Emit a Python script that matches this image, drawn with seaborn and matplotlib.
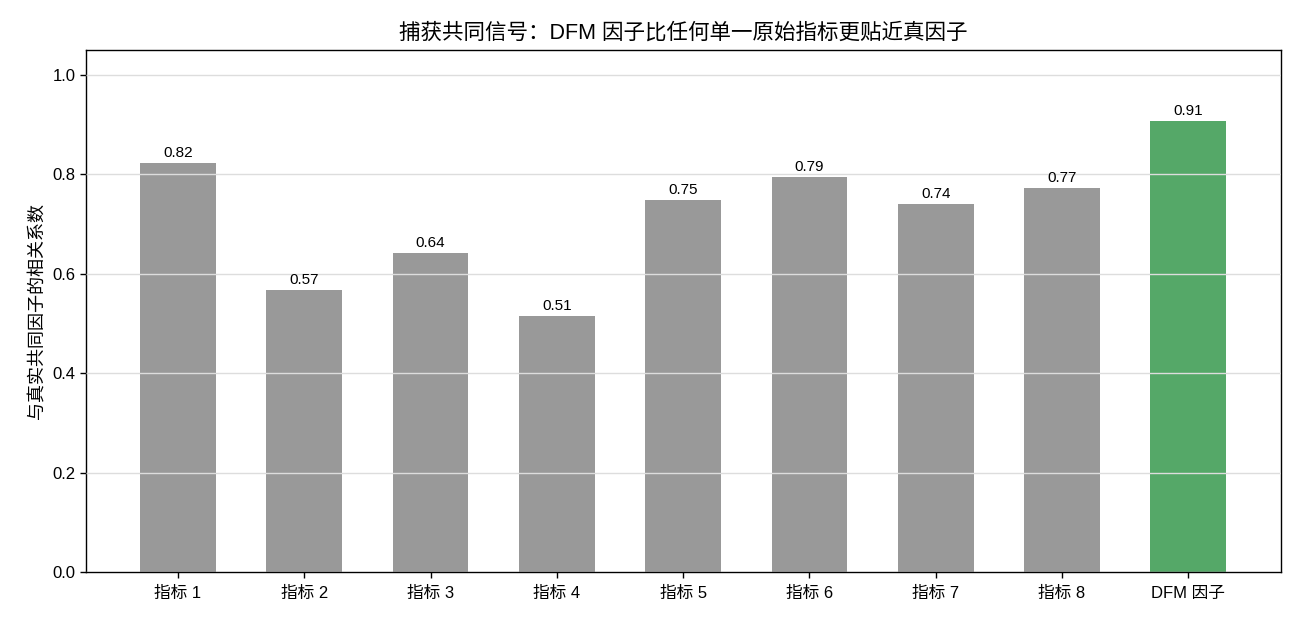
import matplotlib
matplotlib.use("Agg")
import matplotlib.pyplot as plt
import seaborn as sns
import pandas as pd

categories = ["指标 1", "指标 2", "指标 3", "指标 4", "指标 5", "指标 6", "指标 7", "指标 8", "DFM 因子"]
correlations = [0.822, 0.568, 0.641, 0.514, 0.748, 0.794, 0.740, 0.772, 0.908]
bar_colors = ["#999999"] * 8 + ["#55A868"]

sns.set_theme(style="white")
plt.rcParams["font.family"] = ["Liberation Sans", "Noto Sans CJK SC", "DejaVu Sans"]
plt.rcParams["axes.unicode_minus"] = False

df = pd.DataFrame({"cat": categories, "r": correlations})

fig = plt.figure(figsize=(13, 6.24), dpi=100)
ax = fig.add_axes([0.066, 0.0833, 0.919, 0.8367])
sns.barplot(data=df, x="cat", y="r", hue="cat", palette=bar_colors, legend=False,
            width=0.6, ax=ax, saturation=1, edgecolor="none", linewidth=0)

ax.set_axisbelow(False)
ax.yaxis.grid(True, color="#dddddd", linewidth=1)
ax.set_xlim(-0.73, 8.73)
ax.set_ylim(0, 1.05)
ax.set_yticks([0, 0.2, 0.4, 0.6, 0.8, 1.0])
ax.set_yticklabels(["0.0", "0.2", "0.4", "0.6", "0.8", "1.0"])

for s in ax.spines.values():
    s.set_visible(True)
    s.set_color("black")
    s.set_linewidth(1)

ax.tick_params(axis="both", which="both", direction="out", length=4, width=1,
               color="black", labelsize=12, bottom=True, left=True, labelcolor="black")
ax.tick_params(axis="x", pad=6)

for i, v in enumerate(correlations):
    ax.text(i, v + 0.006, f"{v:.2f}", ha="center", va="bottom", fontsize=11, color="black")

ax.set_xlabel("")
ax.set_ylabel("与真实共同因子的相关系数", fontsize=13, color="black")
ax.set_title("捕获共同信号：DFM 因子比任何单一原始指标更贴近真因子", fontsize=15.5, color="black", pad=8)

fig.savefig("out.png", dpi=100)
